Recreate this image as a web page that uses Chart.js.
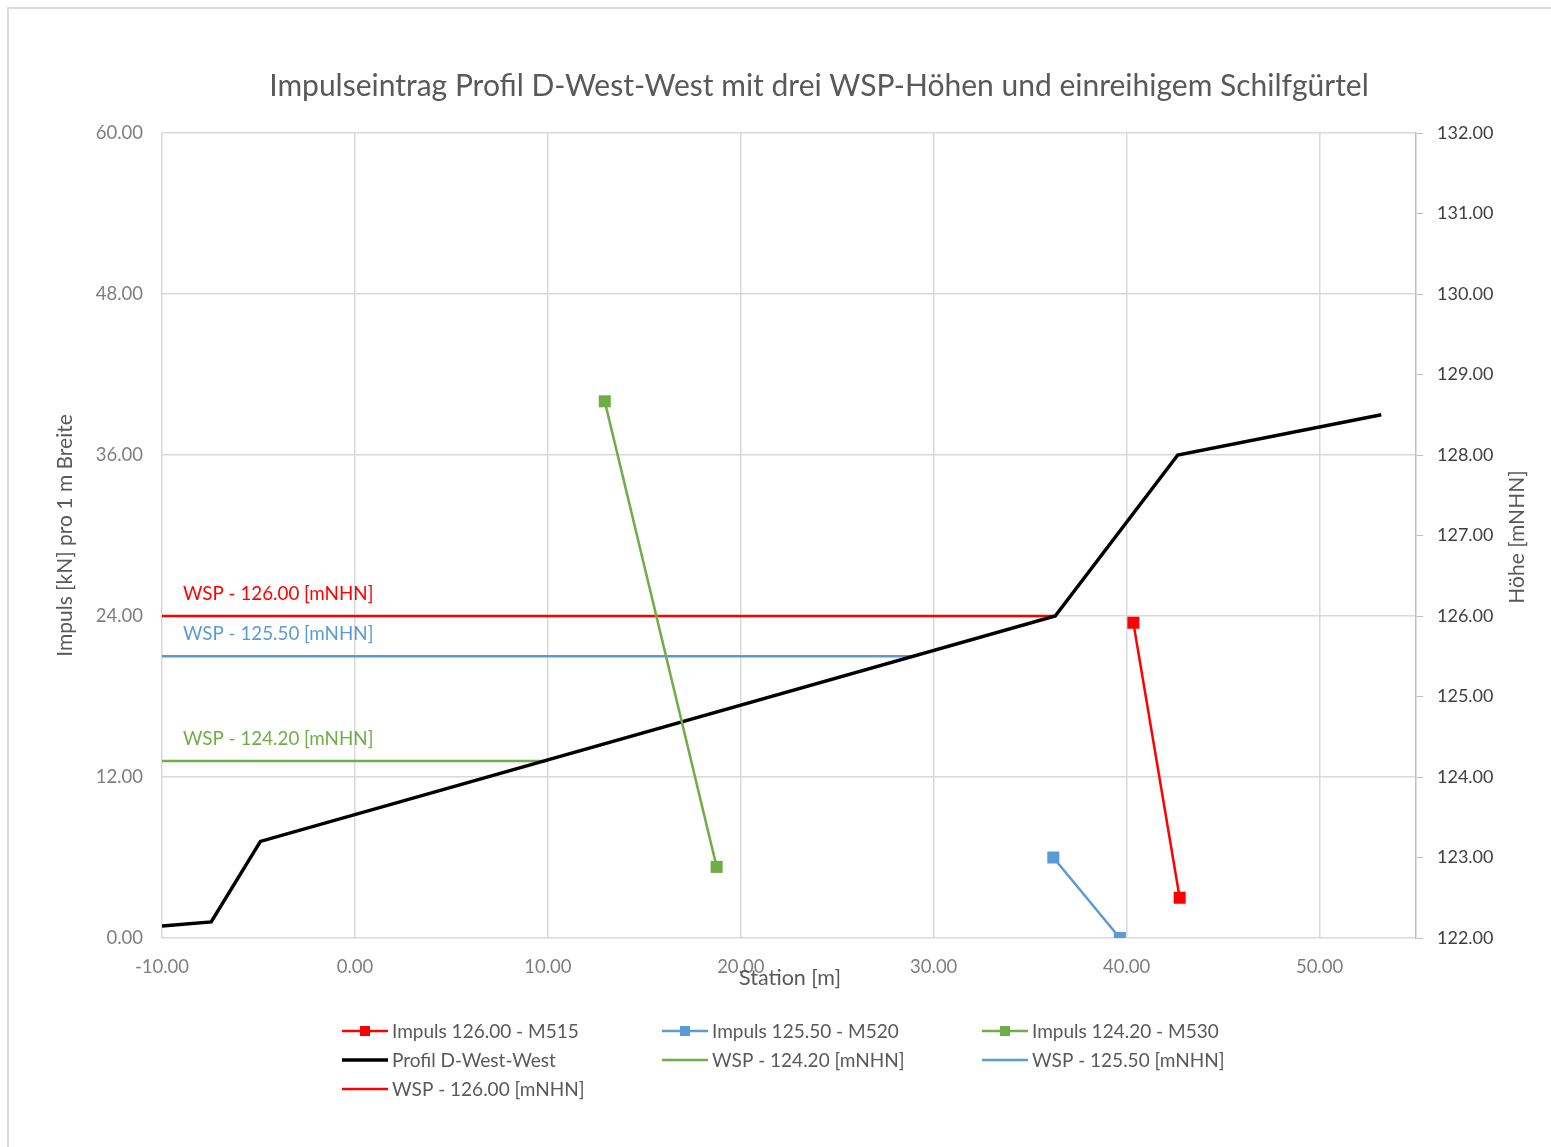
<!DOCTYPE html>
<html>
<head>
<meta charset="utf-8">
<script src="https://cdn.jsdelivr.net/npm/chart.js@4.4.1/dist/chart.umd.min.js"></script>
<style>
html, body { margin: 0; padding: 0; background: #fff; overflow: hidden; }
#rahmen { position: absolute; left: 7px; top: 7px; width: 1600px; height: 1200px; border-left: 2px solid #dcdcdc; border-top: 2px solid #dcdcdc; }
#wrap { position: absolute; left: 0; top: 0; width: 1551px; height: 1147px; }
</style>
</head>
<body>
<div id="rahmen"></div>
<div id="wrap"><canvas id="chart" width="1551" height="1147"></canvas></div>
<script>
const titel = "Impulseintrag Profil D-West-West mit drei WSP-Höhen und einreihigem Schilfgürtel"

// Impulse (linke Achse)
const m515Station = [40.35, 42.75]
const m515Impuls = [23.5, 3.0]
const m520Station = [36.2, 39.65]
const m520Impuls = [6.0, 0.0]
const m530Station = [12.95, 18.75]
const m530Impuls = [40.0, 5.3]

// Profil + Wasserspiegel (rechte Achse)
const profilStation = [-10, -7.45, -4.9, 36.3, 42.65, 53.2]
const profilHoehe = [122.15, 122.2, 123.2, 126.0, 128.0, 128.5]
const wsp124Station = [-10, 10.0]
const wsp124Hoehe = [124.2, 124.2]
const wsp125Station = [-10, 29.0]
const wsp125Hoehe = [125.5, 125.5]
const wsp126Station = [-10, 36.3]
const wsp126Hoehe = [126.0, 126.0]

const ROT = '#ff0000'
const BLAU = '#5b9bd5'
const GRUEN = '#70ad47'
const SCHWARZ = '#000000'
const FONT = 'Lato, "Open Sans", sans-serif'

function punkte(xs, ys) {
  return xs.map((x, i) => ({x: x, y: ys[i]}))
}

function impulsSet(label, xs, ys, farbe) {
  return {
    label: label, data: punkte(xs, ys), yAxisID: 'yL',
    borderColor: farbe, backgroundColor: farbe, borderWidth: 2.5,
    pointStyle: 'rect', pointRadius: 8.5, pointHoverRadius: 8.5, pointBorderWidth: 0,
    marker: true, order: 1
  }
}

function linieSet(label, xs, ys, farbe, breite, beschriftung) {
  return {
    label: label, data: punkte(xs, ys), yAxisID: 'yR',
    borderColor: farbe, backgroundColor: farbe, borderWidth: breite,
    pointRadius: 0, pointHoverRadius: 0, marker: false,
    beschriftung: beschriftung, order: 2
  }
}

const datasets = [
  impulsSet('Impuls 126.00 - M515', m515Station, m515Impuls, ROT),
  impulsSet('Impuls 125.50 - M520', m520Station, m520Impuls, BLAU),
  impulsSet('Impuls 124.20 - M530', m530Station, m530Impuls, GRUEN),
  linieSet('Profil D-West-West', profilStation, profilHoehe, SCHWARZ, 3.5, false),
  linieSet('WSP - 124.20 [mNHN]', wsp124Station, wsp124Hoehe, GRUEN, 2.5, true),
  linieSet('WSP - 125.50 [mNHN]', wsp125Station, wsp125Hoehe, BLAU, 2.5, true),
  linieSet('WSP - 126.00 [mNHN]', wsp126Station, wsp126Hoehe, ROT, 2.5, true)
]

// Titel, Beschriftungen an den WSP-Linien und Legende (Excel-Stil)
const extras = {
  id: 'extras',
  afterDatasetsDraw(chart) {
    const ctx = chart.ctx
    const xs = chart.scales.x
    const yR = chart.scales.yR
    ctx.save()
    ctx.textBaseline = 'middle'
    ctx.textAlign = 'left'
    ctx.font = '18.8px ' + FONT
    chart.data.datasets.forEach(ds => {
      if (!ds.beschriftung) return
      const p = ds.data[0]
      ctx.fillStyle = ds.borderColor
      ctx.fillText(ds.label, xs.getPixelForValue(p.x) + 21, yR.getPixelForValue(p.y) - 22)
    })
    ctx.restore()
  },
  afterDraw(chart) {
    const ctx = chart.ctx
    const area = chart.chartArea
    ctx.save()
    // Titel
    ctx.fillStyle = '#595959'
    ctx.font = '30px ' + FONT
    ctx.textAlign = 'center'
    ctx.textBaseline = 'middle'
    ctx.fillText(titel, 819, 86)
    // x-Achsentitel (überlappt die Beschriftung 20.00 wie im Original)
    ctx.font = '21.5px ' + FONT
    ctx.fillText('Station [m]', (area.left + area.right) / 2 + 1, 978)
    // rechter Achsentitel, von unten nach oben gelesen
    ctx.save()
    ctx.translate(1517, 537)
    ctx.rotate(-Math.PI / 2)
    ctx.font = '21px ' + FONT
    ctx.fillText('Höhe [mNHN]', 0, 0)
    ctx.restore()
    // Legende
    ctx.font = '19px ' + FONT
    ctx.textAlign = 'left'
    chart.data.datasets.forEach((ds, i) => {
      const sx = 342 + (i % 3) * 320
      const sy = 1031 + Math.floor(i / 3) * 29
      ctx.strokeStyle = ds.borderColor
      ctx.lineWidth = ds.marker ? 2.5 : (ds.borderWidth > 3 ? 3.5 : 2.5)
      ctx.beginPath()
      ctx.moveTo(sx, sy)
      ctx.lineTo(sx + 46, sy)
      ctx.stroke()
      if (ds.marker) {
        ctx.fillStyle = ds.borderColor
        ctx.fillRect(sx + 18, sy - 5, 10, 10)
      }
      ctx.fillStyle = '#595959'
      ctx.fillText(ds.label, sx + 50, sy + 1)
    })
    ctx.restore()
  }
}

const fmt = v => Number(v).toFixed(2)

new Chart(document.getElementById('chart'), {
  type: 'line',
  data: { datasets: datasets },
  options: {
    responsive: false,
    animation: false,
    layout: { padding: { top: 133, left: 0, right: 0, bottom: 0 } },
    plugins: { legend: { display: false }, title: { display: false }, tooltip: { enabled: false } },
    elements: { line: { tension: 0 } },
    scales: {
      x: {
        type: 'linear', position: 'bottom', min: -10, max: 55,
        ticks: { stepSize: 10, includeBounds: false, callback: fmt, color: '#7f7f7f', padding: 18, font: { family: FONT, size: 18.5 } },
        grid: { color: '#d9d9d9', lineWidth: 1.5, drawTicks: false },
        border: { display: false },
        afterFit: s => { s.height = 209 }
      },
      yL: {
        type: 'linear', position: 'left', min: 0, max: 60,
        ticks: { stepSize: 12, callback: fmt, color: '#7f7f7f', padding: 19, font: { family: FONT, size: 18.5 } },
        grid: { color: '#d9d9d9', lineWidth: 1.5, drawTicks: false },
        border: { display: false },
        title: { display: true, text: 'Impuls [kN] pro 1 m Breite', color: '#595959', font: { family: FONT, size: 21 }, padding: { top: 53, bottom: 0 } },
        afterFit: s => { s.width = 162 }
      },
      yR: {
        type: 'linear', position: 'right', min: 122, max: 132,
        ticks: { stepSize: 1, callback: fmt, color: '#404040', padding: 14, font: { family: FONT, size: 18 } },
        grid: { drawOnChartArea: false, drawTicks: true, tickLength: 7, tickColor: '#bfbfbf' },
        border: { display: true, color: '#bfbfbf', width: 1.5 },
        afterFit: s => { s.width = 135 }
      }
    }
  },
  plugins: [extras]
})
</script>
</body>
</html>
